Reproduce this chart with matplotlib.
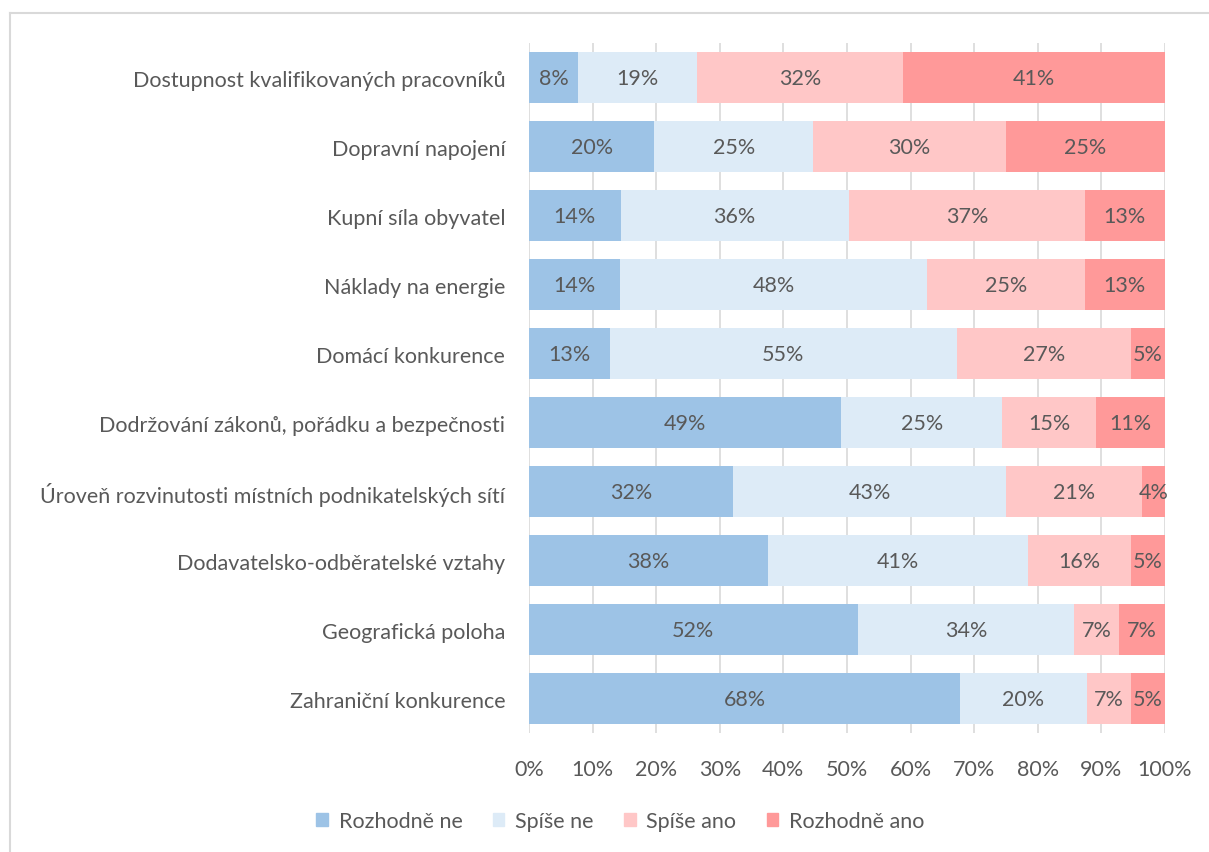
import numpy as np
import matplotlib.pyplot as plt
from matplotlib.lines import Line2D
from matplotlib.patches import Patch

plt.rcParams["font.family"] = ["Lato", "DejaVu Sans"]

categories = [
    "Dostupnost kvalifikovaných pracovníků",
    "Dopravní napojení",
    "Kupní síla obyvatel",
    "Náklady na energie",
    "Domácí konkurence",
    "Dodržování zákonů, pořádku a bezpečnosti",
    "Úroveň rozvinutosti místních podnikatelských sítí",
    "Dodavatelsko-odběratelské vztahy",
    "Geografická poloha",
    "Zahraniční konkurence",
]
series_names = ["Rozhodně ne", "Spíše ne", "Spíše ano", "Rozhodně ano"]
rozhodne_ne = [7.7, 19.7, 14.4, 14.3, 12.7, 49.1, 32.1, 37.6, 51.7, 67.8]
spise_ne = [18.7, 25.0, 35.9, 48.3, 54.6, 25.3, 42.9, 40.9, 34.0, 19.9]
spise_ano = [32.4, 30.3, 37.1, 24.8, 27.3, 14.8, 21.4, 16.2, 7.1, 6.9]
rozhodne_ano = [41.2, 25.0, 12.6, 12.6, 5.4, 10.8, 3.6, 5.3, 7.2, 5.4]
colors = ["#9DC3E6", "#DDEBF7", "#FFC7C7", "#FF9999"]

text_col = "#595959"
fs = 15.5
fig = plt.figure(figsize=(12.09, 8.53), dpi=100)
ax = fig.add_axes([0.4375, 0.1395, 0.5261, 0.8089])

y = np.arange(len(categories))
left = np.zeros(len(categories))
for name, vals, c in zip(series_names, [rozhodne_ne, spise_ne, spise_ano, rozhodne_ano], colors):
    vals = np.array(vals)
    ax.barh(y, vals, left=left, height=0.73, color=c, label=name, zorder=2)
    for yi, l, v in zip(y, left, vals):
        ax.text(l + v / 2, yi, f"{v:.0f}%", ha="center", va="center",
                fontsize=fs, color=text_col, zorder=3)
    left += vals

ax.set_xlim(0, 100)
ax.set_ylim(len(categories) - 0.5, -0.5)
ax.set_xticks(np.arange(0, 101, 10))
ax.set_xticklabels([f"{t}%" for t in range(0, 101, 10)])
ax.set_yticks(y)
ax.set_yticklabels(categories)
ax.tick_params(axis="both", length=0, labelsize=fs, colors=text_col)
ax.tick_params(axis="x", pad=19)
ax.tick_params(axis="y", pad=17)
ax.xaxis.grid(True, color="#D9D9D9", linewidth=1.2, zorder=0)
ax.set_axisbelow(True)
for s in ax.spines.values():
    s.set_visible(False)

handles = [Patch(color=c, label=n) for n, c in zip(series_names, colors)]
fig.legend(handles=handles, loc="center", bbox_to_anchor=(0.513, 0.036), ncol=4,
           frameon=False, fontsize=fs, labelcolor=text_col, handlelength=0.55,
           handleheight=0.55, handletextpad=0.5, columnspacing=1.4)

# chart area border (left and top edges visible)
fig.add_artist(Line2D([10 / 1209, 10 / 1209], [0, 1 - 14 / 853], color="#D9D9D9", linewidth=1.5))
fig.add_artist(Line2D([10 / 1209, 1], [1 - 14 / 853, 1 - 14 / 853], color="#D9D9D9", linewidth=1.5))

fig.savefig("out.png", dpi=100)
